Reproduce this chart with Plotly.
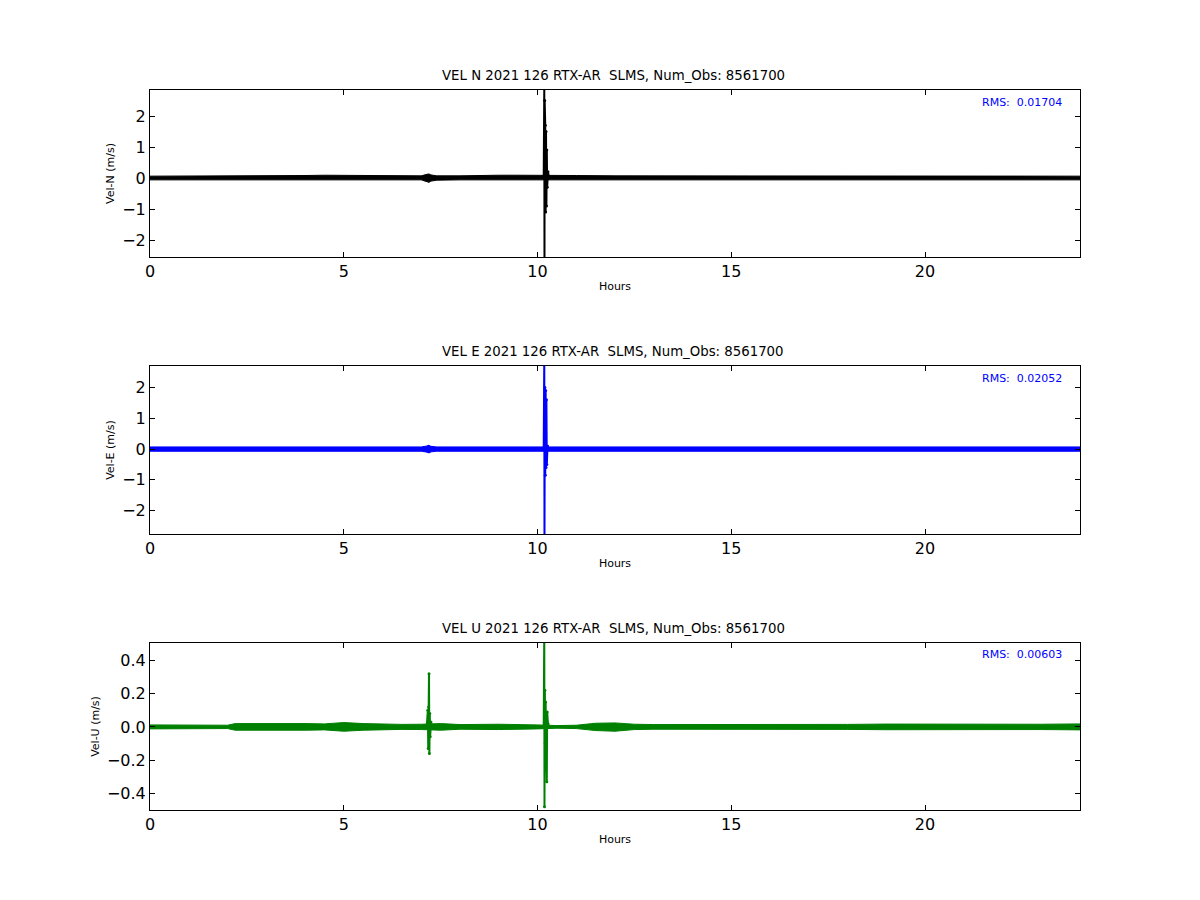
import plotly.graph_objects as go

# ---------------- data ----------------
TITLES = ["VEL N 2021 126 RTX-AR  SLMS, Num_Obs: 8561700",
          "VEL E 2021 126 RTX-AR  SLMS, Num_Obs: 8561700",
          "VEL U 2021 126 RTX-AR  SLMS, Num_Obs: 8561700"]
YLABELS = ["Vel-N (m/s)", "Vel-E (m/s)", "Vel-U (m/s)"]
RMS_TEXT = ["RMS:  0.01704", "RMS:  0.02052", "RMS:  0.00603"]
COLORS = ["#000000", "#0000ff", "#008000"]

# envelope of the dense background record (hours, upper, lower)
N_env_t = [0, 1, 1.3, 2, 3, 4, 4.5, 5, 5.5, 6, 7, 7.15, 7.2, 7.25, 7.4, 8, 8.5, 9, 9.5, 10, 10.5, 11, 12, 13, 14, 15, 16, 17, 18, 19, 20, 21, 22, 23, 24]
N_env_up = [0.06, 0.06, 0.08, 0.07, 0.07, 0.08, 0.09, 0.09, 0.09, 0.08, 0.07, 0.12, 0.13, 0.1, 0.07, 0.07, 0.09, 0.09, 0.09, 0.08, 0.08, 0.08, 0.07, 0.07, 0.07, 0.06, 0.06, 0.06, 0.07, 0.06, 0.07, 0.06, 0.06, 0.06, 0.06]
N_env_lo = [-0.06, -0.06, -0.06, -0.06, -0.06, -0.06, -0.06, -0.06, -0.06, -0.06, -0.06, -0.12, -0.14, -0.1, -0.07, -0.06, -0.06, -0.06, -0.06, -0.06, -0.06, -0.06, -0.06, -0.06, -0.06, -0.06, -0.06, -0.06, -0.06, -0.06, -0.06, -0.06, -0.06, -0.06, -0.06]

E_env_t = [0, 2, 4, 6, 7, 7.15, 7.2, 7.25, 7.4, 8, 10, 12, 14, 16, 18, 20, 22, 24]
E_env_up = [0.07, 0.07, 0.07, 0.07, 0.07, 0.1, 0.11, 0.09, 0.07, 0.07, 0.07, 0.07, 0.07, 0.07, 0.07, 0.07, 0.07, 0.07]
E_env_lo = [-0.07, -0.07, -0.07, -0.07, -0.07, -0.1, -0.12, -0.09, -0.07, -0.07, -0.07, -0.07, -0.07, -0.07, -0.07, -0.07, -0.07, -0.07]

U_env_t = [0, 1, 2, 2.2, 3, 4, 4.5, 5, 5.5, 6, 6.5, 7, 7.5, 8, 9, 10, 10.5, 11, 11.5, 12, 12.5, 13, 14, 15, 16, 17, 18, 19, 20, 21, 22, 23, 24]
U_env_up = [0.012, 0.01, 0.01, 0.02, 0.022, 0.02, 0.018, 0.026, 0.02, 0.016, 0.015, 0.016, 0.02, 0.014, 0.016, 0.012, 0.008, 0.01, 0.022, 0.024, 0.016, 0.014, 0.014, 0.016, 0.012, 0.012, 0.015, 0.017, 0.016, 0.015, 0.013, 0.016, 0.018]
U_env_lo = [-0.012, -0.01, -0.01, -0.02, -0.022, -0.02, -0.018, -0.026, -0.02, -0.016, -0.015, -0.016, -0.02, -0.014, -0.016, -0.012, -0.008, -0.01, -0.022, -0.026, -0.016, -0.014, -0.014, -0.016, -0.012, -0.012, -0.015, -0.017, -0.016, -0.015, -0.013, -0.016, -0.018]

# transient events (hours, value)
N_evt_t = [10.16, 10.175, 10.18, 10.185, 10.19, 10.2, 10.21, 10.22, 10.23, 10.24, 10.25, 10.27, 10.3]
N_evt_v = [0.0, 2.95, -2.7, 2.5, -2.6, 1.7, -1.1, 1.5, -0.9, 0.9, -0.3, 0.2, 0.0]

E_evt_t = [7.15, 7.19, 7.2, 7.22, 7.26, 10.16, 10.175, 10.18, 10.19, 10.2, 10.21, 10.22, 10.23, 10.24, 10.26, 10.29]
E_evt_v = [0.0, 0.09, -0.09, 0.05, 0.0, 0.0, 3.0, -3.0, 2.0, -0.85, 1.9, -0.6, 1.6, -0.5, 0.1, 0.0]

U_evt1_t = [7.14, 7.17, 7.18, 7.19, 7.2, 7.21, 7.22, 7.23, 7.25, 7.28]
U_evt1_v = [0.0, 0.1, -0.13, 0.12, 0.32, -0.16, 0.08, -0.06, 0.03, 0.0]
U_evt2_t = [10.16, 10.175, 10.18, 10.19, 10.2, 10.21, 10.22, 10.24, 10.25, 10.27, 10.3]
U_evt2_v = [0.0, 0.6, -0.48, 0.22, -0.1, 0.15, -0.05, -0.33, 0.09, 0.02, 0.0]

Y_RANGES = [[-2.55, 2.84], [-2.76, 2.70], [-0.5, 0.505]]
Y_TICKS = [[-2, -1, 0, 1, 2], [-2, -1, 0, 1, 2], [-0.4, -0.2, 0.0, 0.2, 0.4]]
X_TICKS = [0, 5, 10, 15, 20]

# ---------------- figure ----------------
fig = go.Figure()
envs = [(N_env_t, N_env_up, N_env_lo), (E_env_t, E_env_up, E_env_lo), (U_env_t, U_env_up, U_env_lo)]
events = [[(N_evt_t, N_evt_v)], [(E_evt_t, E_evt_v)], [(U_evt1_t, U_evt1_v), (U_evt2_t, U_evt2_v)]]
domains = [[0.768, 1.0], [0.3833, 0.6167], [0.0, 0.232]]

for i in range(3):
    xa = "x" if i == 0 else f"x{i+1}"
    ya = "y" if i == 0 else f"y{i+1}"
    c = COLORS[i]
    t, up, lo = envs[i]
    fig.add_trace(go.Scatter(x=t, y=lo, mode="lines", line=dict(color=c, width=1),
                             xaxis=xa, yaxis=ya, showlegend=False, hoverinfo="skip"))
    fig.add_trace(go.Scatter(x=t, y=up, mode="lines", line=dict(color=c, width=1),
                             fill="tonexty", fillcolor=c,
                             xaxis=xa, yaxis=ya, showlegend=False, hoverinfo="skip"))
    for et, ev in events[i]:
        fig.add_trace(go.Scatter(x=et, y=ev, mode="lines+markers",
                                 line=dict(color=c, width=2), marker=dict(color=c, size=3),
                                 xaxis=xa, yaxis=ya, showlegend=False, cliponaxis=True))

axis_common = dict(showline=True, linecolor="black", linewidth=1, mirror="allticks",
                   ticks="inside", ticklen=5, tickcolor="black", tickwidth=1,
                   showgrid=False, zeroline=False,
                   tickfont=dict(family="DejaVu Sans", size=16, color="black"))

layout = dict(width=1200, height=900, plot_bgcolor="white", paper_bgcolor="white",
              margin=dict(l=142, r=128, t=82, b=98), showlegend=False,
              font=dict(family="DejaVu Sans", color="black"))
annotations = []
for i in range(3):
    xk = "xaxis" if i == 0 else f"xaxis{i+1}"
    yk = "yaxis" if i == 0 else f"yaxis{i+1}"
    ya = "y" if i == 0 else f"y{i+1}"
    layout[xk] = dict(axis_common, range=[0, 24], tickvals=X_TICKS, anchor=ya,
                      domain=[0, 1],
                      title=dict(text="Hours", font=dict(size=11), standoff=2))
    xa = "x" if i == 0 else f"x{i+1}"
    layout[yk] = dict(axis_common, range=Y_RANGES[i], tickvals=Y_TICKS[i], anchor=xa,
                      domain=domains[i],
                      tickformat=".1f" if i == 2 else "d",
                      title=dict(text=YLABELS[i], font=dict(size=11), standoff=5))
    annotations.append(dict(text=TITLES[i], xref=f"{xa} domain", yref=f"{ya} domain",
                            x=0.5, y=1, xanchor="center", yanchor="bottom", yshift=5,
                            xshift=-2,
                            showarrow=False, font=dict(size=13.3, color="black")))
    annotations.append(dict(text=RMS_TEXT[i], xref=f"{xa} domain", yref=f"{ya} domain",
                            x=0.983, y=0.928, xanchor="right", yanchor="middle",
                            showarrow=False, font=dict(size=11, color="#0000ff")))
layout["annotations"] = annotations
fig.update_layout(**layout)

fig.write_html("out.html")
